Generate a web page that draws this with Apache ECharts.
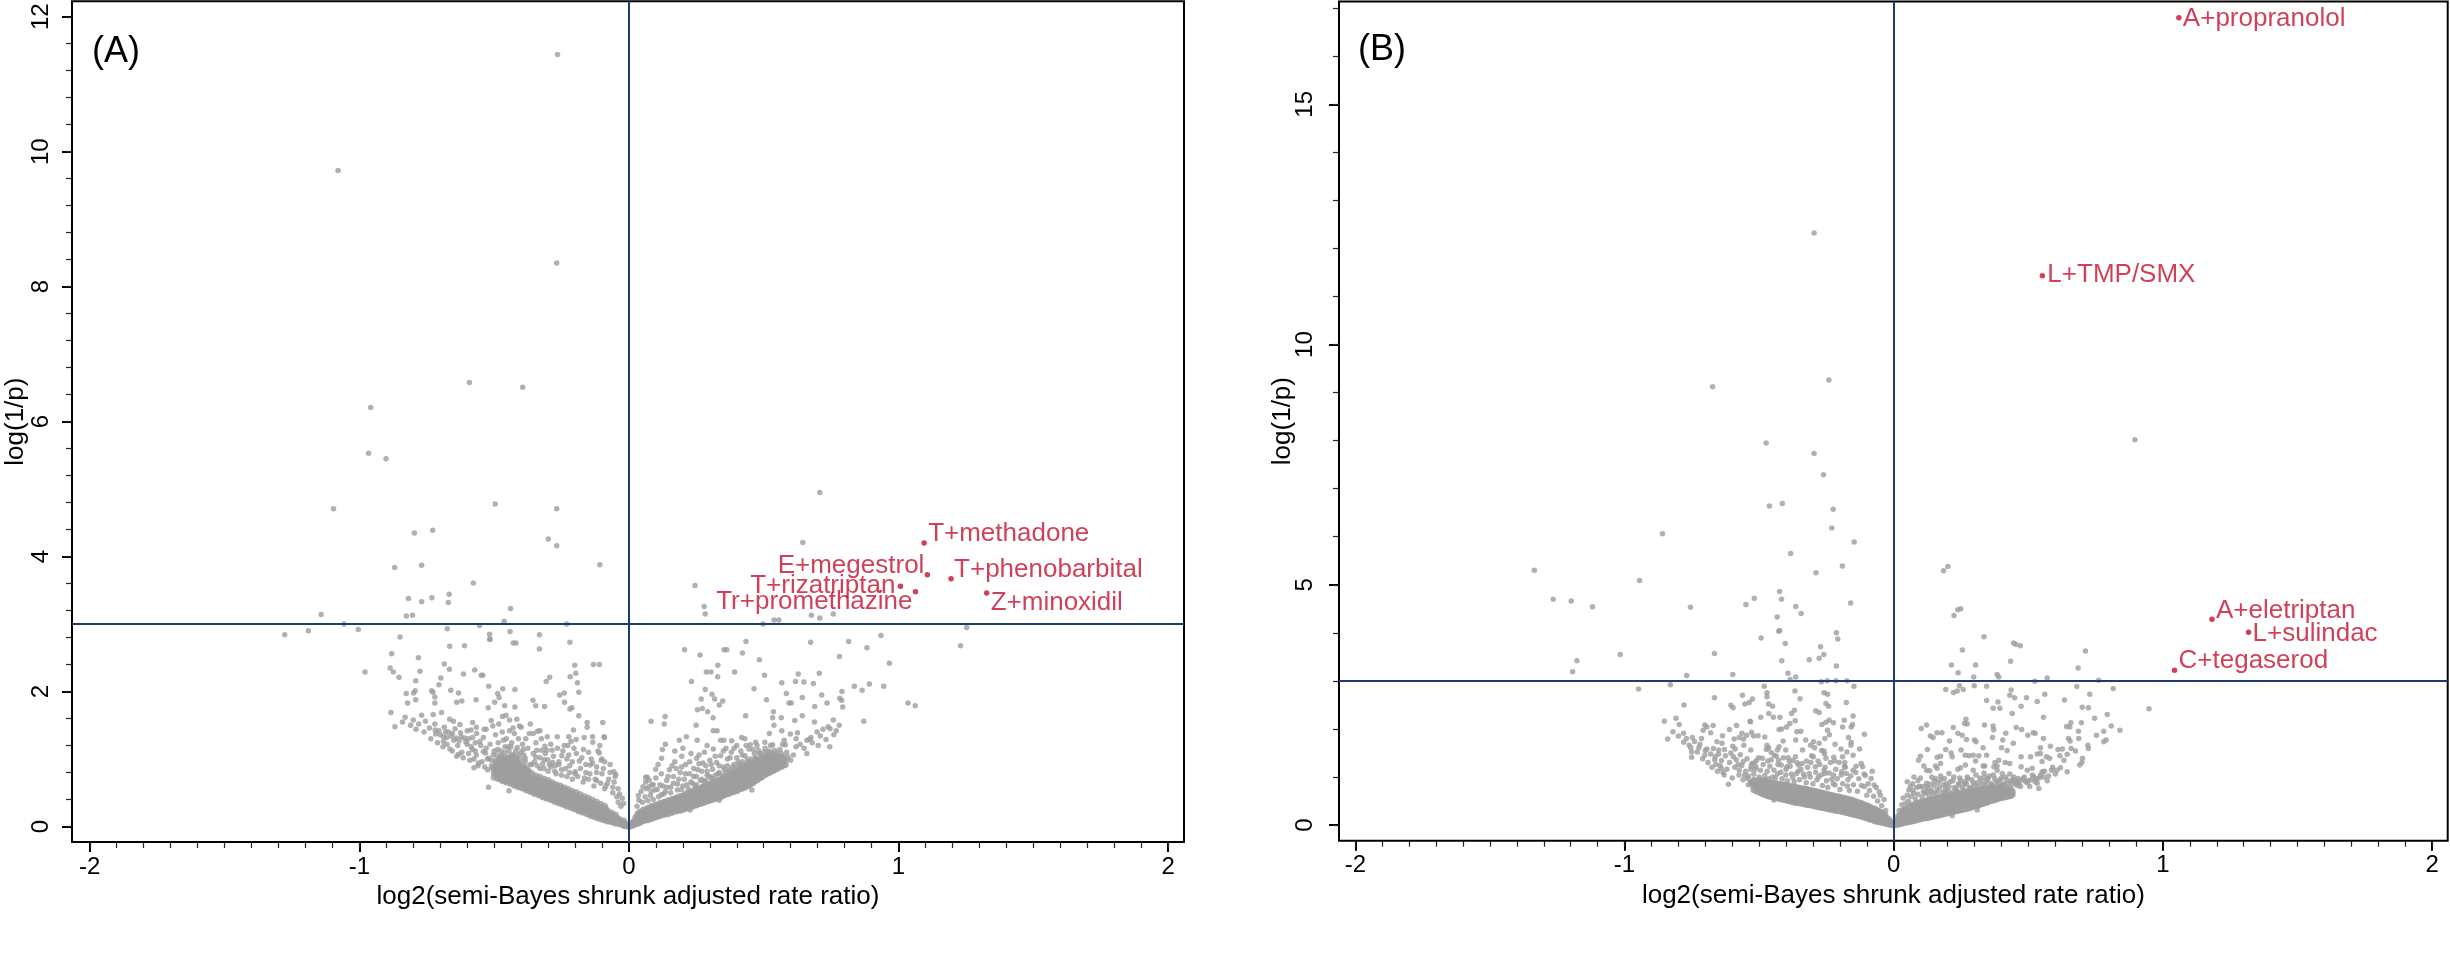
<!DOCTYPE html>
<html><head><meta charset="utf-8">
<script src="https://cdn.jsdelivr.net/npm/echarts@6/dist/echarts.min.js"></script>
<style>html,body{margin:0;padding:0;background:#fff}#c{width:2450px;height:958px}</style>
</head><body><div id="c"></div>
<script>
// ---------- tick labels ----------
const xTickLabels = [-2, -1, 0, 1, 2];
const xMinorTicks = [-2,-1.9,-1.8,-1.7,-1.6,-1.5,-1.4,-1.3,-1.2,-1.1,-1,-0.9,-0.8,-0.7,-0.6,-0.5,-0.4,-0.3,-0.2,-0.1,0,0.1,0.2,0.3,0.4,0.5,0.6,0.7,0.8,0.9,1,1.1,1.2,1.3,1.4,1.5,1.6,1.7,1.8,1.9,2];
const yTickLabelsA = [0, 2, 4, 6, 8, 10, 12];
const yMinorTicksA = [0,0.4,0.8,1.2,1.6,2,2.4,2.8,3.2,3.6,4,4.4,4.8,5.2,5.6,6,6.4,6.8,7.2,7.6,8,8.4,8.8,9.2,9.6,10,10.4,10.8,11.2,11.6,12];
const yTickLabelsB = [0, 5, 10, 15];
const yMinorTicksB = [0,1,2,3,4,5,6,7,8,9,10,11,12,13,14,15,16,17];
const xTitle = 'log2(semi-Bayes shrunk adjusted rate ratio)';
const yTitle = 'log(1/p)';

// ---------- panel A : highlighted pairs ----------
const redNamesA = ['T+methadone','E+megestrol','T+phenobarbital','T+rizatriptan','Tr+promethazine','Z+minoxidil'];
const redXA = [1.095, 1.107, 1.195, 1.007, 1.063, 1.327];
const redYA = [4.20, 3.73, 3.67, 3.56, 3.48, 3.46];

// ---------- panel A : other pairs ----------
const grayA_upper = [[-0.265,11.44],[-1.079,9.72],[-0.268,8.35],[-0.592,6.58],[-0.394,6.51],[-0.958,6.21],[-0.966,5.53],[-0.901,5.45],
[-1.096,4.71],[-0.496,4.78],[-0.268,4.71],[-0.796,4.35],[-0.728,4.39],[-0.299,4.26],[-0.268,4.16],[-0.869,3.84],[-0.769,3.87],[-0.108,3.88],[-0.577,3.61],[-0.818,3.38],[-0.769,3.33],[-0.731,3.39],[-0.667,3.44],[-0.670,3.32],[-0.439,3.23],[-1.142,3.14],[-0.826,3.12],[-0.803,3.13],[-1.057,3.00],[-0.554,2.98],[-0.463,3.04],[-0.231,3.00],[-1.277,2.84],[-1.189,2.90],[-1.004,2.92],[-0.849,2.81],[-0.674,2.93],[-0.517,2.85],[-0.516,2.78],[-0.441,2.89],[-0.332,2.84],[-0.979,2.29],
[0.708,4.95],[0.645,4.21],[0.245,3.57],[0.279,3.26],[0.283,3.15],[0.497,3.00],[0.538,3.06],[0.556,3.06],[0.677,3.13],[0.708,3.09],[0.758,3.15],[1.253,2.95],[0.935,2.83],[1.230,2.68],[0.966,2.42],[1.035,1.83],[1.062,1.79]];

const grayA_left = [[-0.880,2.56],[-0.781,2.50],[-0.665,2.67],[-0.610,2.68],[-0.516,2.77],[-0.429,2.72],[-0.419,2.72],[-0.332,2.63],[-0.219,2.73],
[-0.886,2.35],[-0.874,2.29],[-0.853,2.21],[-0.775,2.30],[-0.791,2.16],[-0.685,2.41],[-0.666,2.33],[-0.698,2.20],[-0.614,2.26],[-0.572,2.32],[-0.548,2.24],[-0.542,2.24],[-0.705,2.10],[-0.732,2.01],[-0.727,1.99],[-0.793,2.01],[-0.799,1.98],[-0.826,1.97],[-0.821,1.83],[-0.791,1.88],[-0.720,1.92],[-0.720,1.83],[-0.661,2.02],[-0.632,1.98],[-0.639,1.84],[-0.620,1.86],[-0.567,1.88],[-0.520,2.08],[-0.487,1.97],[-0.482,1.91],[-0.498,1.84],[-0.468,2.04],[-0.423,2.03],[-0.522,1.76],[-0.461,1.79],[-0.423,1.77],[-0.356,1.87],[-0.346,1.79],[-0.313,1.78],[-0.307,2.15],[-0.294,2.21],[-0.257,1.95],[-0.240,1.98],[-0.239,1.84],[-0.219,1.74],[-0.212,1.76],[-0.218,2.22],[-0.197,2.27],[-0.201,2.39],[-0.191,2.13],[-0.186,1.99],[-0.132,2.40],[-0.110,2.40],[-0.186,1.64],
[-0.883,1.69],[-0.868,1.48],[-0.769,1.65],[-0.726,1.66],[-0.695,1.69],[-0.665,1.59],[-0.651,1.56],[-0.627,1.51],[-0.719,1.43],[-0.717,1.37],[-0.688,1.33],[-0.688,1.26],[-0.676,1.32],[-0.660,1.34],[-0.641,1.31],[-0.622,1.33],[-0.610,1.31],[-0.595,1.30],
[-0.70,1.36],[-0.68,1.40],[-0.655,1.38],[-0.63,1.27],[-0.60,1.22],[-0.585,1.18],[-0.57,1.24],
[-0.580,1.54],[-0.566,1.47],[-0.586,1.43],[-0.537,1.44],[-0.530,1.44],[-0.505,1.49],[-0.483,1.52],[-0.511,1.57],[-0.469,1.63],[-0.456,1.65],[-0.443,1.58],[-0.416,1.59],[-0.406,1.49],[-0.400,1.47],[-0.443,1.42],[-0.425,1.38],[-0.383,1.30],[-0.366,1.52],[-0.355,1.38],[-0.339,1.41],[-0.330,1.42],[-0.303,1.33],[-0.266,1.33],[-0.223,1.33],[-0.206,1.43],[-0.196,1.29],[-0.166,1.32],[-0.155,1.54],[-0.155,1.47],[-0.135,1.33],[-0.097,1.54],[-0.091,1.32],[-0.092,1.33],[-0.10,1.0],[-0.056,0.81],[-0.049,0.77],
[-0.664,1.15],[-0.639,1.04],[-0.632,1.07],[-0.581,1.14],[-0.553,1.26],[-0.566,1.06],[-0.558,0.94],[-0.575,0.87],[-0.540,1.11],[-0.532,1.09],[-0.520,1.01],[-0.510,0.98],[-0.503,1.06],[-0.487,1.14],[-0.466,1.28],[-0.460,1.18],[-0.448,1.18],[-0.438,1.18],[-0.414,1.17],[-0.392,1.14],[-0.472,1.06],[-0.466,1.01],[-0.429,1.06],[-0.410,1.06],[-0.390,1.06],[-0.385,1.01],[-0.342,1.13],[-0.324,1.13],[-0.305,1.13],[-0.285,1.13],[-0.312,1.19],[-0.346,1.03],[-0.314,0.99],[-0.301,0.99],[-0.283,0.95],[-0.274,0.90],[-0.249,1.05],[-0.240,1.20],[-0.227,1.20],[-0.223,1.06],[-0.204,1.16],[-0.184,0.97],[-0.199,0.81],[-0.169,1.14],[-0.134,1.25],[-0.108,1.20],[-0.110,1.09],[-0.144,0.91],[-0.135,0.94],[-0.103,0.98],[-0.095,0.86],[-0.070,0.80],[-0.051,0.74],[-0.035,0.48],[-0.020,0.34],
[-0.524,0.84],[-0.505,0.86],[-0.485,0.83],[-0.477,0.77],[-0.456,0.86],[-0.448,0.75],[-0.432,0.81],[-0.521,0.58],[-0.445,0.53],
[-0.36,0.92],[-0.33,0.86],[-0.30,0.82],[-0.27,0.78],[-0.25,0.84],[-0.23,0.74],[-0.21,0.70],[-0.19,0.74],[-0.17,0.66],[-0.15,0.70],[-0.13,0.60],[-0.12,0.68],[-0.09,0.56],[-0.08,0.64],[-0.06,0.50],[-0.04,0.36],[-0.35,0.96],[-0.32,0.93],[-0.29,0.88],[-0.26,0.92],[-0.22,0.90],[-0.16,0.80],[-0.12,0.80],
[-0.84,1.55],[-0.83,1.62],[-0.81,1.50],[-0.80,1.58],[-0.79,1.44],[-0.78,1.52],[-0.76,1.40],[-0.755,1.56],[-0.74,1.46],[-0.735,1.30],[-0.72,1.52],[-0.71,1.24],[-0.705,1.42],[-0.69,1.18],[-0.685,1.47],[-0.675,1.22],[-0.67,1.40],[-0.655,1.12],[-0.65,1.28],[-0.645,1.45],[-0.635,1.20],[-0.625,1.39],[-0.62,1.10],[-0.615,1.02],[-0.605,1.26],[-0.60,1.42],[-0.595,1.08],[-0.59,0.98],[-0.58,1.32],[-0.575,1.00],[-0.57,1.12],[-0.565,1.38],[-0.56,0.90],[-0.55,1.20],[-0.545,0.96],[-0.54,1.32],[-0.535,0.88],[-0.53,1.16],[-0.525,1.00],[-0.515,1.22],[-0.51,0.90],[-0.50,1.12],[-0.495,1.36],[-0.49,1.06],[-0.485,1.24],[-0.475,1.12],[-0.47,1.40],[-0.46,1.10],[-0.455,1.30],[-0.445,1.12],[-0.435,1.24],[-0.43,1.46],[-0.42,1.12],[-0.41,1.30],[-0.40,1.10],[-0.395,1.22],[-0.385,0.96],[-0.375,1.16],[-0.37,1.38],[-0.365,0.92],[-0.355,1.08],[-0.345,1.24],[-0.34,0.90],[-0.33,1.02],[-0.325,1.30],[-0.315,0.86],[-0.31,1.08],[-0.295,0.92],[-0.29,1.22],[-0.28,1.04],[-0.275,0.82],[-0.265,1.16],[-0.26,0.96],[-0.25,0.76],[-0.245,1.12],[-0.235,0.86],[-0.23,1.00],[-0.22,0.80],[-0.215,1.26],[-0.21,0.96],[-0.20,0.78],[-0.195,1.08],[-0.18,0.86],[-0.175,1.02],[-0.165,0.72],[-0.16,0.92],[-0.15,1.10],[-0.145,0.78],[-0.14,1.00],[-0.125,0.70],[-0.12,0.88],[-0.115,1.12],[-0.105,0.64],[-0.10,0.78],[-0.09,0.96],[-0.085,0.60],[-0.075,0.70],[-0.07,0.92],[-0.06,0.58],[-0.055,0.66],[-0.045,0.44],[-0.04,0.56],[-0.03,0.30],[-0.025,0.42]];

const grayA_leftBand = [[-0.50,0.73],[-0.50,0.80],[-0.50,0.87],[-0.49,0.95],
[-0.485,0.71],[-0.485,0.78],[-0.485,0.85],[-0.48,0.92],[-0.48,1.00],
[-0.47,0.68],[-0.47,0.75],[-0.47,0.82],[-0.465,0.89],[-0.47,0.96],[-0.465,1.03],
[-0.455,0.66],[-0.455,0.72],[-0.455,0.79],[-0.45,0.86],[-0.455,0.93],[-0.45,1.00],
[-0.44,0.64],[-0.44,0.70],[-0.44,0.77],[-0.44,0.84],[-0.435,0.91],[-0.44,0.97],[-0.435,1.05],
[-0.425,0.61],[-0.425,0.68],[-0.425,0.74],[-0.425,0.81],[-0.42,0.88],[-0.425,0.94],[-0.42,1.01],
[-0.41,0.59],[-0.41,0.65],[-0.41,0.72],[-0.41,0.78],[-0.405,0.85],[-0.41,0.92],[-0.405,0.99],
[-0.395,0.57],[-0.395,0.63],[-0.395,0.69],[-0.395,0.76],[-0.39,0.83],[-0.395,0.90],
[-0.38,0.54],[-0.38,0.60],[-0.38,0.67],[-0.38,0.73],[-0.375,0.80],[-0.38,0.87],
[-0.365,0.52],[-0.365,0.58],[-0.365,0.64],[-0.365,0.71],[-0.36,0.78],
[-0.35,0.49],[-0.35,0.55],[-0.35,0.62],[-0.35,0.68],[-0.345,0.75],
[-0.335,0.47],[-0.335,0.53],[-0.335,0.59],[-0.335,0.66],[-0.33,0.73],
[-0.32,0.44],[-0.32,0.50],[-0.32,0.57],[-0.32,0.63],[-0.315,0.70],
[-0.305,0.42],[-0.305,0.48],[-0.305,0.54],[-0.305,0.61],[-0.30,0.68],
[-0.29,0.40],[-0.29,0.46],[-0.29,0.52],[-0.29,0.58],[-0.285,0.65],
[-0.275,0.37],[-0.275,0.43],[-0.275,0.50],[-0.275,0.56],[-0.27,0.62],
[-0.26,0.35],[-0.26,0.41],[-0.26,0.47],[-0.26,0.53],[-0.255,0.60],
[-0.245,0.33],[-0.245,0.39],[-0.245,0.45],[-0.245,0.51],[-0.24,0.57],
[-0.23,0.30],[-0.23,0.36],[-0.23,0.42],[-0.23,0.48],[-0.225,0.55],
[-0.215,0.28],[-0.215,0.34],[-0.215,0.40],[-0.215,0.46],[-0.21,0.52],
[-0.20,0.26],[-0.20,0.31],[-0.20,0.37],[-0.20,0.43],[-0.195,0.50],
[-0.185,0.23],[-0.185,0.29],[-0.185,0.35],[-0.185,0.41],[-0.18,0.47],
[-0.17,0.21],[-0.17,0.27],[-0.17,0.32],[-0.17,0.38],[-0.165,0.44],
[-0.155,0.19],[-0.155,0.24],[-0.155,0.30],[-0.155,0.36],[-0.15,0.42],
[-0.14,0.16],[-0.14,0.22],[-0.14,0.27],[-0.14,0.33],[-0.135,0.39],
[-0.125,0.14],[-0.125,0.19],[-0.125,0.25],[-0.125,0.31],[-0.12,0.36],
[-0.11,0.12],[-0.11,0.17],[-0.11,0.22],[-0.11,0.28],[-0.105,0.33],
[-0.095,0.10],[-0.095,0.15],[-0.095,0.20],[-0.095,0.25],[-0.09,0.30],
[-0.08,0.08],[-0.08,0.13],[-0.08,0.18],[-0.08,0.23],
[-0.065,0.07],[-0.065,0.11],[-0.065,0.15],[-0.065,0.20],
[-0.05,0.05],[-0.05,0.09],[-0.05,0.13],[-0.05,0.17],
[-0.035,0.04],[-0.035,0.07],[-0.035,0.10],
[-0.02,0.02],[-0.02,0.05],[-0.02,0.08],[-0.01,0.01],[-0.01,0.03],[0,0],
[-0.4925,0.76],[-0.4925,0.83],[-0.4925,0.90],[-0.4925,0.97],
[-0.4775,0.72],[-0.4775,0.79],[-0.4775,0.86],[-0.4775,0.94],[-0.4775,1.01],
[-0.4625,0.69],[-0.4625,0.76],[-0.4625,0.83],[-0.4625,0.91],[-0.4625,0.98],
[-0.4475,0.67],[-0.4475,0.74],[-0.4475,0.81],[-0.4475,0.88],[-0.4475,0.95],[-0.4475,1.02],
[-0.4325,0.65],[-0.4325,0.72],[-0.4325,0.79],[-0.4325,0.86],[-0.4325,0.93],[-0.4325,1.00],
[-0.4175,0.62],[-0.4175,0.69],[-0.4175,0.76],[-0.4175,0.83],[-0.4175,0.90],[-0.4175,0.97],
[-0.4025,0.60],[-0.4025,0.67],[-0.4025,0.74],[-0.4025,0.81],[-0.4025,0.88],
[-0.3875,0.57],[-0.3875,0.64],[-0.3875,0.71],[-0.3875,0.78],[-0.3875,0.85],
[-0.3725,0.55],[-0.3725,0.62],[-0.3725,0.68],[-0.3725,0.75],[-0.3725,0.82],
[-0.3575,0.52],[-0.3575,0.59],[-0.3575,0.66],[-0.3575,0.72],
[-0.3425,0.50],[-0.3425,0.57],[-0.3425,0.64],[-0.3425,0.70],
[-0.3275,0.47],[-0.3275,0.54],[-0.3275,0.61],[-0.3275,0.68],
[-0.3125,0.45],[-0.3125,0.52],[-0.3125,0.59],[-0.3125,0.66],
[-0.2975,0.43],[-0.2975,0.50],[-0.2975,0.57],[-0.2975,0.64],
[-0.2825,0.40],[-0.2825,0.47],[-0.2825,0.54],[-0.2825,0.61],
[-0.2675,0.38],[-0.2675,0.45],[-0.2675,0.52],[-0.2675,0.59],
[-0.2525,0.36],[-0.2525,0.43],[-0.2525,0.50],[-0.2525,0.57],
[-0.2375,0.33],[-0.2375,0.40],[-0.2375,0.47],[-0.2375,0.54],
[-0.2225,0.31],[-0.2225,0.38],[-0.2225,0.44],[-0.2225,0.51],
[-0.2075,0.29],[-0.2075,0.35],[-0.2075,0.42],[-0.2075,0.48],
[-0.1925,0.26],[-0.1925,0.32],[-0.1925,0.39],[-0.1925,0.45],
[-0.1775,0.24],[-0.1775,0.30],[-0.1775,0.36],[-0.1775,0.42],
[-0.1625,0.22],[-0.1625,0.28],[-0.1625,0.34],[-0.1625,0.40],
[-0.1475,0.19],[-0.1475,0.25],[-0.1475,0.31],[-0.1475,0.37],
[-0.1325,0.17],[-0.1325,0.23],[-0.1325,0.29],[-0.1325,0.35],
[-0.1175,0.15],[-0.1175,0.20],[-0.1175,0.26],[-0.1175,0.32],
[-0.1025,0.13],[-0.1025,0.18],[-0.1025,0.23],[-0.1025,0.28],
[-0.0875,0.11],[-0.0875,0.16],[-0.0875,0.21],[-0.0875,0.26],
[-0.0725,0.09],[-0.0725,0.14],[-0.0725,0.18],
[-0.0575,0.07],[-0.0575,0.11],[-0.0575,0.16],
[-0.0425,0.06],[-0.0425,0.09],[-0.0425,0.12],
[-0.0275,0.04],[-0.0275,0.07],[-0.015,0.02],[-0.015,0.04]];

const grayA_right = [[0.206,2.62],[0.264,2.54],[0.353,2.62],[0.363,2.62],[0.421,2.57],[0.434,2.74],[0.484,2.47],[0.674,2.73],[0.815,2.74],[0.883,2.65],[0.781,2.52],[0.330,2.39],[0.287,2.29],[0.304,2.29],[0.329,2.22],[0.392,2.29],[0.503,2.24],[0.232,2.15],[0.567,2.13],[0.618,2.15],[0.628,2.26],[0.649,2.14],[0.684,2.12],[0.706,2.27],[0.836,2.08],[0.865,2.02],[0.892,2.11],[0.945,2.08],[0.283,2.03],[0.308,1.96],[0.318,1.89],[0.335,1.80],[0.348,1.86],[0.268,1.89],[0.464,2.04],[0.510,1.88],[0.584,1.97],[0.594,1.83],[0.602,1.83],[0.643,1.91],[0.689,1.78],[0.715,1.95],[0.735,1.83],[0.782,1.90],[0.789,1.87],[0.790,2.00],[0.793,1.77],[0.254,1.73],[0.272,1.75],[0.292,1.70],[0.312,1.61],[0.249,1.50],[0.134,1.63],[0.131,1.52],[0.082,1.56],[0.433,1.64],[0.536,1.70],[0.533,1.61],[0.565,1.61],[0.615,1.57],[0.643,1.64],[0.688,1.55],[0.739,1.48],[0.746,1.45],[0.758,1.58],[0.769,1.42],[0.871,1.56],[0.538,1.50],[0.567,1.42],[0.599,1.37],[0.625,1.39],[0.660,1.28],[0.670,1.29],[0.698,1.40],[0.702,1.20],[0.731,1.29],[0.745,1.18],[0.660,1.08],[0.521,1.38],[0.504,1.25],[0.533,1.21],[0.576,1.28],[0.580,1.21],[0.620,1.18],[0.418,1.32],[0.450,1.21],[0.313,1.42],[0.327,1.42],[0.340,1.28],[0.352,1.28],[0.381,1.27],[0.313,1.15],[0.253,1.28],[0.213,1.33],[0.187,1.28],[0.135,1.22],[0.124,1.14],[0.121,1.01],[0.196,1.04],[0.251,1.01],[0.108,0.92],[0.099,0.85],[0.062,0.73],[0.068,0.73],[0.052,0.59],[0.037,0.39],[0.074,0.59],[0.082,0.52],[0.456,0.54],[0.335,0.39],[0.227,0.245],
[0.062,0.66],[0.075,0.69],[0.09,0.62],[0.10,0.72],[0.105,0.55],[0.12,0.47],[0.125,0.60],[0.135,0.52],[0.14,0.68],[0.15,0.84],[0.155,0.58],[0.16,0.90],[0.165,0.74],[0.175,0.86],[0.18,0.63],[0.19,0.80],[0.195,0.55],[0.205,0.70],[0.21,0.92],[0.215,0.62],[0.225,0.78],[0.23,0.66],[0.24,0.86],[0.245,0.60],[0.25,0.74],[0.26,0.93],[0.265,0.68],[0.27,0.82],[0.28,0.66],[0.285,0.90],[0.29,0.76],[0.30,0.98],[0.305,0.72],[0.31,0.85],[0.32,0.76],[0.325,0.95],[0.335,0.80],[0.34,1.05],[0.35,0.88],[0.36,0.80],[0.365,1.00],[0.375,0.84],[0.38,1.10],[0.39,0.92],[0.40,1.02],[0.405,0.88],[0.415,1.12],[0.42,0.96],[0.43,1.05],[0.44,0.96],[0.445,1.15],[0.455,1.00],[0.465,1.08],[0.47,1.02],[0.48,1.13],[0.49,1.06],[0.50,1.10],[0.51,1.06],[0.52,1.12],[0.53,1.08],[0.54,1.13],[0.55,1.09],[0.565,1.08],[0.575,1.04],[0.59,1.03],[0.60,0.98],
[0.17,1.12],[0.20,1.16],[0.23,1.08],[0.28,1.10],[0.29,1.20],[0.36,1.16],[0.40,1.20],[0.47,1.25],[0.43,1.30],
[0.03,0.30],[0.035,0.46],[0.045,0.52],[0.05,0.36],[0.06,0.44],[0.065,0.56],[0.07,0.38],[0.08,0.46],[0.085,0.62],[0.09,0.40],[0.095,0.54],[0.11,0.44],[0.115,0.62],[0.12,0.78],[0.13,0.48],[0.14,0.58],[0.145,0.74],[0.155,0.50],[0.165,0.64],[0.17,0.96],[0.18,0.54],[0.185,0.70],[0.195,0.88],[0.20,0.60],[0.21,0.78],[0.22,0.56],[0.225,0.96],[0.235,0.64],[0.24,0.74],[0.25,0.62],[0.255,0.84],[0.26,1.06],[0.27,0.70],[0.275,0.94],[0.285,0.68],[0.29,0.82],[0.30,0.74],[0.305,0.92],[0.315,0.70],[0.32,1.04],[0.33,0.78],[0.335,0.90],[0.345,0.76],[0.35,1.12],[0.355,0.84],[0.365,0.90],[0.37,0.82],[0.375,1.02],[0.385,0.88],[0.39,1.16],[0.395,0.84],[0.405,0.96],[0.41,0.92],[0.42,1.06],[0.425,0.92],[0.435,1.20],[0.44,1.00],[0.45,0.96],[0.46,1.14],[0.47,1.00],[0.475,1.20],[0.485,1.08],[0.495,1.02],[0.505,1.16],[0.515,1.10],[0.525,1.20],[0.545,1.06],[0.56,1.14],[0.57,1.22],[0.585,1.10],[0.61,1.06],[0.62,1.30],[0.635,1.22],[0.65,1.16],[0.675,1.32],[0.68,1.24],[0.71,1.34],[0.72,1.44],[0.76,1.36],[0.78,1.50]];

const grayA_rightBand = [[0.01,0.01],[0.012,0.04],
[0.025,0.04],[0.025,0.09],[0.025,0.13],
[0.04,0.06],[0.04,0.11],[0.04,0.16],[0.04,0.21],
[0.055,0.09],[0.055,0.14],[0.055,0.19],[0.055,0.25],
[0.07,0.10],[0.07,0.16],[0.07,0.22],[0.07,0.27],
[0.085,0.12],[0.085,0.18],[0.085,0.24],[0.085,0.30],
[0.10,0.14],[0.10,0.20],[0.10,0.26],[0.10,0.32],
[0.115,0.16],[0.115,0.22],[0.115,0.28],[0.115,0.34],
[0.13,0.18],[0.13,0.24],[0.13,0.30],[0.13,0.36],
[0.145,0.19],[0.145,0.25],[0.145,0.32],[0.145,0.38],
[0.16,0.21],[0.16,0.27],[0.16,0.34],[0.16,0.40],
[0.175,0.23],[0.175,0.29],[0.175,0.36],[0.175,0.42],
[0.19,0.24],[0.19,0.31],[0.19,0.38],[0.19,0.44],
[0.205,0.26],[0.205,0.33],[0.205,0.40],[0.205,0.46],
[0.22,0.28],[0.22,0.35],[0.22,0.42],[0.22,0.49],
[0.235,0.30],[0.235,0.37],[0.235,0.44],[0.235,0.51],
[0.25,0.32],[0.25,0.39],[0.25,0.46],[0.25,0.54],
[0.265,0.34],[0.265,0.41],[0.265,0.49],[0.265,0.56],
[0.28,0.36],[0.28,0.43],[0.28,0.51],[0.28,0.59],
[0.295,0.38],[0.295,0.46],[0.295,0.54],[0.295,0.61],
[0.31,0.40],[0.31,0.48],[0.31,0.56],[0.31,0.64],
[0.325,0.42],[0.325,0.50],[0.325,0.58],[0.325,0.66],
[0.34,0.44],[0.34,0.52],[0.34,0.61],[0.34,0.69],
[0.355,0.47],[0.355,0.55],[0.355,0.64],[0.355,0.72],
[0.37,0.49],[0.37,0.57],[0.37,0.66],[0.37,0.74],
[0.385,0.51],[0.385,0.60],[0.385,0.69],[0.385,0.77],
[0.40,0.53],[0.40,0.62],[0.40,0.72],[0.40,0.81],
[0.415,0.56],[0.415,0.65],[0.415,0.75],[0.415,0.84],
[0.43,0.58],[0.43,0.68],[0.43,0.78],[0.43,0.87],
[0.445,0.61],[0.445,0.71],[0.445,0.81],[0.445,0.90],
[0.46,0.65],[0.46,0.75],[0.46,0.84],[0.46,0.93],
[0.475,0.69],[0.475,0.78],[0.475,0.87],[0.475,0.96],
[0.49,0.73],[0.49,0.82],[0.49,0.91],[0.49,0.99],
[0.505,0.77],[0.505,0.86],[0.505,0.94],[0.505,1.01],
[0.52,0.80],[0.52,0.89],[0.52,0.97],[0.52,1.03],
[0.535,0.83],[0.535,0.91],[0.535,0.99],[0.535,1.05],
[0.55,0.86],[0.55,0.94],[0.55,1.02],
[0.565,0.89],[0.565,0.96],[0.565,1.02],
[0.58,0.92],[0.58,0.98],
[0.0175,0.03],[0.0175,0.07],
[0.0325,0.05],[0.0325,0.09],[0.0325,0.14],[0.0325,0.18],
[0.0475,0.08],[0.0475,0.12],[0.0475,0.17],[0.0475,0.22],
[0.0625,0.10],[0.0625,0.14],[0.0625,0.19],[0.0625,0.24],
[0.0775,0.12],[0.0775,0.17],[0.0775,0.22],[0.0775,0.27],
[0.0925,0.14],[0.0925,0.19],[0.0925,0.24],[0.0925,0.29],
[0.1075,0.16],[0.1075,0.21],[0.1075,0.26],[0.1075,0.31],
[0.1225,0.18],[0.1225,0.23],[0.1225,0.29],[0.1225,0.34],
[0.1375,0.19],[0.1375,0.25],[0.1375,0.31],[0.1375,0.36],
[0.1525,0.21],[0.1525,0.27],[0.1525,0.33],[0.1525,0.38],
[0.1675,0.23],[0.1675,0.29],[0.1675,0.35],[0.1675,0.40],
[0.1825,0.25],[0.1825,0.31],[0.1825,0.37],[0.1825,0.43],
[0.1975,0.26],[0.1975,0.33],[0.1975,0.39],[0.1975,0.45],
[0.2125,0.28],[0.2125,0.35],[0.2125,0.41],[0.2125,0.48],
[0.2275,0.30],[0.2275,0.37],[0.2275,0.44],[0.2275,0.50],
[0.2425,0.32],[0.2425,0.39],[0.2425,0.46],[0.2425,0.53],
[0.2575,0.34],[0.2575,0.41],[0.2575,0.48],[0.2575,0.55],
[0.2725,0.36],[0.2725,0.43],[0.2725,0.51],[0.2725,0.58],
[0.2875,0.38],[0.2875,0.46],[0.2875,0.53],[0.2875,0.60],
[0.3025,0.40],[0.3025,0.48],[0.3025,0.56],[0.3025,0.63],
[0.3175,0.42],[0.3175,0.50],[0.3175,0.58],[0.3175,0.65],
[0.3325,0.44],[0.3325,0.52],[0.3325,0.60],[0.3325,0.68],
[0.3475,0.46],[0.3475,0.55],[0.3475,0.63],[0.3475,0.71],
[0.3625,0.49],[0.3625,0.57],[0.3625,0.66],[0.3625,0.74],
[0.3775,0.51],[0.3775,0.60],[0.3775,0.68],[0.3775,0.77],
[0.3925,0.53],[0.3925,0.62],[0.3925,0.71],[0.3925,0.80],
[0.4075,0.56],[0.4075,0.65],[0.4075,0.74],[0.4075,0.83],
[0.4225,0.58],[0.4225,0.68],[0.4225,0.77],[0.4225,0.86],
[0.4375,0.61],[0.4375,0.71],[0.4375,0.80],[0.4375,0.89],
[0.4525,0.64],[0.4525,0.74],[0.4525,0.83],[0.4525,0.92],
[0.4675,0.68],[0.4675,0.77],[0.4675,0.86],[0.4675,0.95],
[0.4825,0.72],[0.4825,0.81],[0.4825,0.90],[0.4825,0.98],
[0.4975,0.76],[0.4975,0.85],[0.4975,0.93],[0.4975,1.00],
[0.5125,0.79],[0.5125,0.88],[0.5125,0.96],[0.5125,1.03],
[0.5275,0.82],[0.5275,0.91],[0.5275,0.99],[0.5275,1.05],
[0.5425,0.85],[0.5425,0.93],[0.5425,1.01],
[0.5575,0.88],[0.5575,0.96],[0.5575,1.03],
[0.5725,0.91],[0.5725,0.98]];

// ---------- panel B : highlighted pairs ----------
const redNamesB = ['A+propranolol','L+TMP/SMX','A+eletriptan','L+sulindac','C+tegaserod'];
const redXB = [1.059, 0.552, 1.182, 1.318, 1.043];
const redYB = [16.80, 11.43, 4.28, 4.01, 3.22];

// ---------- panel B : other pairs ----------
const grayB_upper = [[-0.296,12.32],[-0.673,9.12],[-0.241,9.26],[-0.474,7.95],[-0.296,7.73],[0.896,8.02],
[-0.261,7.29],[-0.462,6.64],[-0.414,6.69],[-0.225,6.57],[-0.230,6.18],[-0.859,6.06],[-0.147,5.89],[-0.383,5.65],[-0.191,5.39],[-1.335,5.30],[-0.289,5.25],[-0.944,5.09],[-0.424,4.86],[-0.417,4.70],[-1.265,4.70],[-1.198,4.66],[-1.119,4.54],[-0.755,4.53],[-0.518,4.72],[-0.549,4.59],[-0.364,4.55],[-0.344,4.40],[-0.160,4.62],[-0.433,4.33],[-0.424,4.05],
[0.185,5.29],[0.201,5.38],[0.224,4.36],[0.238,4.48],[0.249,4.50],[0.948,2.42]];

const grayB_left = [[-1.177,3.42],[-1.193,3.19],[-1.016,3.55],[-0.666,3.57],[-0.769,3.11],[-0.598,3.13],[-0.948,2.83],[-0.830,2.92],[-0.493,3.89],[-0.427,4.03],[-0.403,3.78],[-0.416,3.42],[-0.393,3.16],[-0.385,3.03],[-0.364,3.08],[-0.314,3.44],[-0.277,3.47],[-0.260,3.55],[-0.272,3.71],[-0.213,4.00],[-0.208,3.87],[-0.213,3.31],[-0.269,2.98],[-0.247,3.0],[-0.215,3.0],[-0.174,3.0],[-0.148,2.89],[-0.481,2.89],[-0.471,2.75],[-0.471,2.67],[-0.367,2.79],[-0.348,2.63],[-0.259,2.75],[-0.246,2.72],[-0.176,2.55],[-0.252,2.53],[-0.242,2.47],[-0.290,2.38],[-0.277,2.34],[-0.380,2.32],[-0.369,2.39],[-0.465,2.52],[-0.450,2.47],[-0.464,2.32],[-0.447,2.24],[-0.423,2.24],[-0.494,2.24],[-0.534,2.16],[-0.562,2.70],[-0.553,2.52],[-0.537,2.55],[-0.525,2.62],[-0.605,2.49],[-0.597,2.44],[-0.666,2.65],[-0.779,2.50],[-0.852,2.16],[-0.809,2.22],[-0.797,2.09],[-0.840,1.79],[-0.781,1.91],[-0.748,1.82],[-0.714,1.80],[-0.708,1.97],[-0.702,2.08],[-0.694,2.04],[-0.671,2.07],[-0.680,1.92],[-0.636,1.86],[-0.610,1.99],[-0.584,2.07],[-0.593,1.79],[-0.574,1.82],[-0.564,1.91],[-0.546,1.87],[-0.528,1.93],[-0.521,1.85],[-0.504,1.86],[-0.479,1.83],[-0.532,2.15],[-0.426,1.99],[-0.416,2.0],[-0.398,2.04],[-0.386,2.11],[-0.366,2.17],[-0.360,1.94],[-0.345,1.95],[-0.327,1.77],[-0.364,1.77],[-0.411,1.75],[-0.426,1.63],[-0.471,1.66],[-0.465,1.61],[-0.432,1.56],[-0.401,1.56],[-0.298,1.73],[-0.309,1.66],[-0.294,1.61],[-0.252,2.14],[-0.240,2.18],[-0.267,2.09],[-0.224,2.13],[-0.246,1.97],[-0.239,1.88],[-0.256,1.80],[-0.277,1.70],[-0.268,1.55],[-0.259,1.54],[-0.218,1.68],[-0.196,1.58],[-0.184,2.18],[-0.190,2.04],[-0.158,2.04],[-0.153,2.09],[-0.151,2.27],[-0.168,1.82],[-0.158,1.72],[-0.159,1.66],[-0.127,1.58],[-0.109,1.89],[-0.174,1.52],[-0.151,1.45],[-0.190,1.42],[-0.223,1.41],[-0.257,1.48],[-0.252,1.39],[-0.299,1.42],[-0.281,1.33],[-0.308,1.30],[-0.376,1.34],[-0.359,1.30],[-0.392,1.40],[-0.354,1.25],[-0.345,1.16],[-0.324,1.33],[-0.418,1.25],[-0.397,1.21],[-0.388,1.32],[-0.436,1.43],[-0.428,1.35],[-0.455,1.51],[-0.444,1.45],[-0.488,1.39],[-0.468,1.33],[-0.512,1.21],[-0.527,1.28],[-0.518,1.29],[-0.531,1.16],[-0.515,1.16],[-0.502,1.40],[-0.559,1.32],[-0.596,1.42],[-0.578,1.26],[-0.574,1.14],[-0.554,1.04],[-0.543,0.97],[-0.531,0.90],[-0.614,0.85],[-0.641,1.18],[-0.634,1.09],[-0.661,1.26],[-0.640,1.34],[-0.629,1.57],[-0.638,1.70],[-0.657,1.73],[-0.670,1.59],[-0.694,1.58],[-0.702,1.45],[-0.724,1.61],[-0.754,1.61],[-0.751,1.52],[-0.751,1.41],[-0.663,1.42],[-0.651,1.48],[-0.598,1.64],[-0.589,1.58],[-0.557,1.66],[-0.558,1.79],[-0.531,1.56],[-0.473,1.57],[-0.339,1.56],[-0.219,1.33],[-0.203,1.30],[-0.182,1.30],[-0.183,1.21],[-0.193,1.11],[-0.176,1.07],[-0.224,1.04],[-0.259,1.14],[-0.256,1.07],[-0.280,1.00],[-0.151,1.14],[-0.141,1.09],[-0.121,1.28],[-0.116,1.21],[-0.106,1.03],[-0.084,0.97],[-0.073,0.83],[-0.109,0.80],[-0.054,0.69],[-0.036,0.53],[-0.172,0.81],[-0.218,0.83],[-0.230,0.95],[-0.291,1.21],[-0.314,1.07],[-0.332,1.00],[-0.361,1.07],[-0.375,0.99],[-0.401,1.04],[-0.432,1.06],[-0.450,1.00],[-0.445,0.52],[-0.479,1.03],[-0.488,0.90],
[-0.54,0.84],[-0.53,0.88],[-0.525,0.82],[-0.515,0.86],[-0.51,0.92],[-0.50,0.84],[-0.495,0.89],[-0.485,0.82],[-0.48,0.94],[-0.475,0.86],[-0.52,0.95],[-0.505,0.78],
[-0.82,1.94],[-0.80,1.85],[-0.78,1.72],[-0.77,1.80],[-0.76,1.66],[-0.74,1.74],[-0.73,1.52],[-0.72,1.68],[-0.71,1.38],[-0.70,1.55],[-0.69,1.30],[-0.68,1.48],[-0.675,1.20],[-0.665,1.36],[-0.655,1.12],[-0.65,1.56],[-0.645,1.24],[-0.63,1.04],[-0.625,1.44],[-0.62,1.16],[-0.61,1.30],[-0.605,1.50],[-0.60,0.98],[-0.59,1.20],[-0.585,1.36],[-0.575,1.04],[-0.57,1.46],[-0.565,1.24],[-0.56,0.94],[-0.55,1.12],[-0.545,1.38],[-0.54,1.02],[-0.53,1.22],[-0.52,1.06],[-0.51,1.34],[-0.50,1.00],[-0.495,1.14],[-0.485,1.26],[-0.47,1.12],[-0.465,0.96],[-0.46,1.22],[-0.455,1.36],[-0.445,1.14],[-0.44,0.98],[-0.43,1.26],[-0.42,1.10],[-0.415,0.96],[-0.41,1.40],[-0.40,1.16],[-0.395,0.92],[-0.385,1.22],[-0.38,1.06],[-0.37,0.90],[-0.365,1.42],[-0.355,1.12],[-0.35,0.94],[-0.34,1.28],[-0.335,1.06],[-0.325,0.88],[-0.32,1.20],[-0.31,1.00],[-0.305,1.44],[-0.30,0.86],[-0.29,1.10],[-0.285,0.94],[-0.275,1.26],[-0.27,1.04],[-0.265,0.82],[-0.255,1.20],[-0.25,0.92],[-0.245,0.78],[-0.24,1.08],[-0.235,1.30],[-0.225,0.86],[-0.215,1.16],[-0.21,0.96],[-0.20,0.74],[-0.195,1.04],[-0.19,0.86],[-0.18,1.20],[-0.17,0.94],[-0.165,0.72],[-0.16,1.02],[-0.15,0.84],[-0.14,1.22],[-0.135,0.70],[-0.13,0.96],[-0.12,0.82],[-0.11,1.06],[-0.10,0.62],[-0.095,0.86],[-0.09,0.72],[-0.08,1.12],[-0.075,0.60],[-0.065,0.78],[-0.06,0.50],[-0.05,0.62],[-0.045,0.40],[-0.03,0.30]];

const grayB_leftBand = [[-0.01,0.01],[-0.01,0.05],
[-0.025,0.03],[-0.025,0.08],[-0.025,0.13],
[-0.04,0.05],[-0.04,0.11],[-0.04,0.17],[-0.04,0.23],
[-0.055,0.07],[-0.055,0.14],[-0.055,0.21],[-0.055,0.28],
[-0.07,0.09],[-0.07,0.17],[-0.07,0.25],[-0.07,0.33],
[-0.085,0.12],[-0.085,0.20],[-0.085,0.28],[-0.085,0.36],
[-0.10,0.15],[-0.10,0.23],[-0.10,0.31],[-0.10,0.40],
[-0.115,0.17],[-0.115,0.25],[-0.115,0.34],[-0.115,0.43],
[-0.13,0.20],[-0.13,0.28],[-0.13,0.37],[-0.13,0.46],
[-0.145,0.22],[-0.145,0.30],[-0.145,0.39],[-0.145,0.49],
[-0.16,0.24],[-0.16,0.33],[-0.16,0.42],[-0.16,0.52],
[-0.175,0.26],[-0.175,0.35],[-0.175,0.44],[-0.175,0.54],
[-0.19,0.28],[-0.19,0.37],[-0.19,0.47],[-0.19,0.56],
[-0.205,0.30],[-0.205,0.39],[-0.205,0.49],[-0.205,0.58],
[-0.22,0.31],[-0.22,0.41],[-0.22,0.51],[-0.22,0.60],
[-0.235,0.33],[-0.235,0.43],[-0.235,0.53],[-0.235,0.62],
[-0.25,0.35],[-0.25,0.45],[-0.25,0.55],[-0.25,0.64],
[-0.265,0.37],[-0.265,0.47],[-0.265,0.57],[-0.265,0.66],
[-0.28,0.38],[-0.28,0.48],[-0.28,0.59],[-0.28,0.68],
[-0.295,0.40],[-0.295,0.50],[-0.295,0.61],[-0.295,0.70],
[-0.31,0.42],[-0.31,0.52],[-0.31,0.62],[-0.31,0.72],
[-0.325,0.43],[-0.325,0.54],[-0.325,0.64],[-0.325,0.74],
[-0.34,0.45],[-0.34,0.56],[-0.34,0.66],[-0.34,0.75],
[-0.355,0.47],[-0.355,0.57],[-0.355,0.68],[-0.355,0.77],
[-0.37,0.48],[-0.37,0.59],[-0.37,0.69],[-0.37,0.78],
[-0.385,0.50],[-0.385,0.61],[-0.385,0.71],[-0.385,0.80],
[-0.40,0.52],[-0.40,0.62],[-0.40,0.73],[-0.40,0.82],
[-0.415,0.54],[-0.415,0.64],[-0.415,0.74],[-0.415,0.83],
[-0.43,0.56],[-0.43,0.66],[-0.43,0.76],[-0.43,0.85],
[-0.445,0.58],[-0.445,0.68],[-0.445,0.78],[-0.445,0.86],
[-0.46,0.60],[-0.46,0.70],[-0.46,0.80],[-0.46,0.88],
[-0.475,0.63],[-0.475,0.72],[-0.475,0.82],[-0.475,0.90],
[-0.49,0.66],[-0.49,0.75],[-0.49,0.84],[-0.49,0.92],
[-0.505,0.70],[-0.505,0.80],[-0.505,0.90],
[-0.52,0.74],[-0.52,0.83],[-0.52,0.91],[0,0],
[-0.0175,0.02],[-0.0175,0.07],[-0.0175,0.11],
[-0.0325,0.04],[-0.0325,0.10],[-0.0325,0.16],[-0.0325,0.21],
[-0.0475,0.06],[-0.0475,0.13],[-0.0475,0.19],[-0.0475,0.26],
[-0.0625,0.08],[-0.0625,0.16],[-0.0625,0.23],[-0.0625,0.30],
[-0.0775,0.11],[-0.0775,0.19],[-0.0775,0.27],[-0.0775,0.34],
[-0.0925,0.13],[-0.0925,0.22],[-0.0925,0.30],[-0.0925,0.38],
[-0.1075,0.16],[-0.1075,0.24],[-0.1075,0.33],[-0.1075,0.41],
[-0.1225,0.19],[-0.1225,0.27],[-0.1225,0.36],[-0.1225,0.45],
[-0.1375,0.21],[-0.1375,0.30],[-0.1375,0.39],[-0.1375,0.48],
[-0.1525,0.23],[-0.1525,0.32],[-0.1525,0.41],[-0.1525,0.51],
[-0.1675,0.25],[-0.1675,0.34],[-0.1675,0.44],[-0.1675,0.53],
[-0.1825,0.27],[-0.1825,0.36],[-0.1825,0.46],[-0.1825,0.55],
[-0.1975,0.29],[-0.1975,0.38],[-0.1975,0.48],[-0.1975,0.57],
[-0.2125,0.30],[-0.2125,0.40],[-0.2125,0.50],[-0.2125,0.59],
[-0.2275,0.32],[-0.2275,0.42],[-0.2275,0.52],[-0.2275,0.61],
[-0.2425,0.34],[-0.2425,0.44],[-0.2425,0.54],[-0.2425,0.63],
[-0.2575,0.36],[-0.2575,0.46],[-0.2575,0.56],[-0.2575,0.65],
[-0.2725,0.37],[-0.2725,0.48],[-0.2725,0.58],[-0.2725,0.67],
[-0.2875,0.39],[-0.2875,0.49],[-0.2875,0.60],[-0.2875,0.69],
[-0.3025,0.41],[-0.3025,0.51],[-0.3025,0.62],[-0.3025,0.71],
[-0.3175,0.42],[-0.3175,0.53],[-0.3175,0.63],[-0.3175,0.73],
[-0.3325,0.44],[-0.3325,0.55],[-0.3325,0.65],[-0.3325,0.75],
[-0.3475,0.46],[-0.3475,0.56],[-0.3475,0.67],[-0.3475,0.76],
[-0.3625,0.47],[-0.3625,0.58],[-0.3625,0.68],[-0.3625,0.78],
[-0.3775,0.49],[-0.3775,0.60],[-0.3775,0.70],[-0.3775,0.79],
[-0.3925,0.51],[-0.3925,0.61],[-0.3925,0.72],[-0.3925,0.81],
[-0.4075,0.53],[-0.4075,0.63],[-0.4075,0.73],[-0.4075,0.83],
[-0.4225,0.55],[-0.4225,0.65],[-0.4225,0.75],[-0.4225,0.84],
[-0.4375,0.57],[-0.4375,0.67],[-0.4375,0.77],[-0.4375,0.86],
[-0.4525,0.59],[-0.4525,0.69],[-0.4525,0.79],[-0.4525,0.87],
[-0.4675,0.61],[-0.4675,0.71],[-0.4675,0.81],[-0.4675,0.89],
[-0.4825,0.64],[-0.4825,0.73],[-0.4825,0.83],[-0.4825,0.91],
[-0.4975,0.68],[-0.4975,0.77],[-0.4975,0.86],[-0.4975,0.93],
[-0.5125,0.72],[-0.5125,0.81],[-0.5125,0.90]];

const grayB_right = [[0.335,3.92],[0.445,3.79],[0.453,3.76],[0.470,3.73],[0.255,3.64],[0.712,3.62],[0.434,3.41],[0.214,3.33],[0.304,3.33],[0.685,3.27],[0.239,3.17],[0.297,3.08],[0.384,3.13],[0.390,3.08],[0.524,2.99],[0.570,3.06],[0.761,3.01],[0.193,2.82],[0.222,2.76],[0.236,2.79],[0.244,2.90],[0.258,2.82],[0.299,2.90],[0.345,2.89],[0.436,2.81],[0.449,2.65],[0.431,2.70],[0.493,2.65],[0.533,2.57],[0.561,2.72],[0.680,2.88],[0.728,2.72],[0.815,2.84],[0.345,2.59],[0.387,2.56],[0.369,2.43],[0.394,2.43],[0.473,2.47],[0.440,2.32],[0.634,2.60],[0.700,2.45],[0.723,2.44],[0.556,2.24],[0.793,2.30],[0.746,2.22],[0.268,2.20],[0.273,2.10],[0.263,2.11],[0.337,2.08],[0.369,2.06],[0.371,1.98],[0.455,2.03],[0.475,1.99],[0.518,1.92],[0.525,1.91],[0.498,1.87],[0.556,1.80],[0.658,2.13],[0.654,2.04],[0.642,2.05],[0.697,2.13],[0.686,1.95],[0.687,1.80],[0.808,2.06],[0.840,1.97],[0.780,1.95],[0.753,1.87],[0.780,1.73],[0.789,1.77],[0.721,1.66],[0.723,1.59],[0.701,1.39],[0.699,1.30],[0.691,1.25],[0.649,1.80],[0.655,1.75],[0.659,1.59],[0.675,1.54],[0.644,1.47],[0.626,1.58],[0.582,1.64],[0.610,1.57],[0.617,1.44],[0.632,1.35],[0.644,1.11],[0.619,1.19],[0.606,1.14],[0.586,1.14],[0.102,2.01],[0.122,2.08],[0.136,1.85],[0.146,1.82],[0.161,1.92],[0.179,1.92],[0.207,1.75],[0.221,2.03],[0.238,1.91],[0.254,1.87],[0.270,1.78],[0.300,1.77],[0.306,1.73],[0.332,1.61],[0.367,1.82],[0.405,1.77],[0.416,1.91],[0.444,1.70],[0.421,1.55],[0.400,1.61],[0.125,1.57],[0.174,1.43],[0.161,1.41],[0.193,1.57],[0.213,1.50],[0.217,1.42],[0.250,1.56],[0.265,1.45],[0.279,1.44],[0.295,1.45],[0.316,1.44],[0.304,1.33],[0.345,1.45],[0.332,1.23],[0.338,1.23],[0.376,1.30],[0.384,1.23],[0.390,1.35],[0.414,1.30],[0.431,1.28],[0.473,1.42],[0.508,1.42],[0.533,1.48],[0.545,1.49],[0.567,1.42],[0.579,1.39],[0.551,1.32],[0.545,1.61],[0.099,1.43],[0.092,1.35],[0.112,1.23],[0.122,1.14],[0.134,1.13],[0.155,1.23],[0.161,1.18],[0.174,1.28],[0.075,1.00],[0.099,0.98],[0.122,0.87],[0.134,0.85],[0.141,1.00],[0.155,0.97],[0.174,1.02],[0.188,0.97],[0.205,1.07],[0.223,1.00],[0.238,1.16],[0.248,1.19],[0.266,1.25],[0.273,1.00],[0.295,1.14],[0.242,0.87],[0.263,0.85],[0.337,1.00],[0.372,1.21],[0.384,1.14],[0.403,1.07],[0.431,1.06],[0.446,1.00],[0.462,0.97],[0.473,1.21],[0.496,1.14],[0.514,1.18],[0.520,1.00],[0.551,1.11],[0.557,1.00],[0.570,0.92],[0.496,0.88],[0.505,0.80],[0.458,0.82],[0.471,0.80],[0.533,0.87],[0.539,0.76],[0.062,0.80],[0.056,0.73],[0.050,0.62],[0.075,0.66],[0.124,0.69],[0.161,0.73],[0.192,0.76],[0.310,0.31],[0.217,0.19],
[0.05,0.90],[0.07,0.86],[0.085,0.78],[0.09,0.92],[0.105,0.80],[0.11,0.70],[0.13,0.76],[0.145,0.66],[0.15,0.82],[0.165,0.88],[0.18,0.68],[0.185,0.84],[0.20,0.72],[0.21,0.90],[0.225,0.78],[0.235,0.70],[0.25,0.92],[0.255,0.78],[0.27,0.86],[0.28,0.76],[0.29,0.94],[0.30,0.82],[0.31,0.88],[0.32,0.98],[0.33,0.84],[0.345,0.92],[0.355,1.02],[0.36,0.86],[0.375,0.96],[0.39,0.88],[0.40,0.98],[0.41,0.86],[0.42,0.94],[0.435,0.90],[0.44,0.84],[0.45,0.92],[0.465,0.86],[0.48,0.96],[0.49,0.90],[0.51,0.94],[0.525,0.90],[0.54,0.98],
[0.02,0.30],[0.03,0.42],[0.035,0.56],[0.045,0.46],[0.055,0.50],[0.065,0.60],[0.07,0.72],[0.08,0.54],[0.09,0.64],[0.095,0.80],[0.105,0.58],[0.115,0.66],[0.12,0.80],[0.13,0.62],[0.14,0.72],[0.15,0.92],[0.16,0.66],[0.17,0.78],[0.175,0.94],[0.19,0.68],[0.195,0.86],[0.205,0.80],[0.215,0.68],[0.22,0.92],[0.23,0.74],[0.24,0.82],[0.245,0.98],[0.26,0.72],[0.265,0.90],[0.275,0.96],[0.285,0.78],[0.295,0.88],[0.305,1.04],[0.315,0.80],[0.325,0.92],[0.335,1.08],[0.34,0.84],[0.35,0.96],[0.365,0.84],[0.37,1.04],[0.38,0.90],[0.395,0.94],[0.405,0.84],[0.415,1.00],[0.425,0.86],[0.44,0.94],[0.455,0.88],[0.47,0.92],[0.485,1.00],[0.50,0.92],[0.515,1.04],[0.53,0.96],[0.545,1.04],[0.56,1.12],[0.575,1.02],[0.59,1.20],[0.60,1.06]];

const grayB_rightBand = [[0.01,0.01],[0.01,0.06],[0.012,0.10],
[0.025,0.03],[0.025,0.09],[0.025,0.15],[0.025,0.21],
[0.04,0.05],[0.04,0.12],[0.04,0.19],[0.04,0.26],[0.04,0.32],
[0.055,0.07],[0.055,0.15],[0.055,0.23],[0.055,0.30],[0.055,0.37],
[0.07,0.09],[0.07,0.17],[0.07,0.25],[0.07,0.33],[0.07,0.41],
[0.085,0.11],[0.085,0.19],[0.085,0.28],[0.085,0.36],[0.085,0.44],
[0.10,0.13],[0.10,0.21],[0.10,0.30],[0.10,0.38],[0.10,0.47],
[0.115,0.15],[0.115,0.23],[0.115,0.32],[0.115,0.40],[0.115,0.49],
[0.13,0.16],[0.13,0.25],[0.13,0.34],[0.13,0.42],[0.13,0.51],
[0.145,0.18],[0.145,0.27],[0.145,0.36],[0.145,0.44],[0.145,0.53],
[0.16,0.20],[0.16,0.29],[0.16,0.38],[0.16,0.46],[0.16,0.55],
[0.175,0.22],[0.175,0.31],[0.175,0.40],[0.175,0.48],[0.175,0.57],
[0.19,0.24],[0.19,0.33],[0.19,0.42],[0.19,0.50],[0.19,0.59],
[0.205,0.26],[0.205,0.35],[0.205,0.44],[0.205,0.52],[0.205,0.61],
[0.22,0.28],[0.22,0.37],[0.22,0.45],[0.22,0.54],[0.22,0.62],
[0.235,0.30],[0.235,0.39],[0.235,0.47],[0.235,0.56],[0.235,0.64],
[0.25,0.32],[0.25,0.41],[0.25,0.49],[0.25,0.58],[0.25,0.66],
[0.265,0.34],[0.265,0.43],[0.265,0.51],[0.265,0.59],[0.265,0.67],
[0.28,0.36],[0.28,0.45],[0.28,0.53],[0.28,0.61],[0.28,0.69],
[0.295,0.39],[0.295,0.47],[0.295,0.55],[0.295,0.63],[0.295,0.70],
[0.31,0.41],[0.31,0.49],[0.31,0.57],[0.31,0.65],[0.31,0.72],
[0.325,0.44],[0.325,0.52],[0.325,0.59],[0.325,0.66],[0.325,0.73],
[0.34,0.47],[0.34,0.54],[0.34,0.61],[0.34,0.68],[0.34,0.75],
[0.355,0.50],[0.355,0.57],[0.355,0.63],[0.355,0.70],[0.355,0.76],
[0.37,0.52],[0.37,0.59],[0.37,0.65],[0.37,0.71],[0.37,0.77],
[0.385,0.55],[0.385,0.61],[0.385,0.67],[0.385,0.73],[0.385,0.78],
[0.40,0.57],[0.40,0.63],[0.40,0.69],[0.40,0.74],[0.40,0.79],
[0.415,0.59],[0.415,0.65],[0.415,0.71],[0.415,0.77],
[0.43,0.61],[0.43,0.67],[0.43,0.73],
[0.44,0.64],[0.44,0.70],
[0.0175,0.02],[0.0175,0.07],[0.0175,0.13],[0.0175,0.18],
[0.0325,0.04],[0.0325,0.11],[0.0325,0.17],[0.0325,0.23],[0.0325,0.29],
[0.0475,0.06],[0.0475,0.13],[0.0475,0.21],[0.0475,0.28],[0.0475,0.34],
[0.0625,0.08],[0.0625,0.16],[0.0625,0.24],[0.0625,0.31],[0.0625,0.39],
[0.0775,0.10],[0.0775,0.18],[0.0775,0.26],[0.0775,0.34],[0.0775,0.42],
[0.0925,0.12],[0.0925,0.20],[0.0925,0.29],[0.0925,0.37],[0.0925,0.45],
[0.1075,0.14],[0.1075,0.22],[0.1075,0.31],[0.1075,0.39],[0.1075,0.48],
[0.1225,0.15],[0.1225,0.24],[0.1225,0.33],[0.1225,0.41],[0.1225,0.50],
[0.1375,0.17],[0.1375,0.26],[0.1375,0.35],[0.1375,0.43],[0.1375,0.52],
[0.1525,0.19],[0.1525,0.28],[0.1525,0.37],[0.1525,0.45],[0.1525,0.54],
[0.1675,0.21],[0.1675,0.30],[0.1675,0.39],[0.1675,0.47],[0.1675,0.56],
[0.1825,0.23],[0.1825,0.32],[0.1825,0.41],[0.1825,0.49],[0.1825,0.58],
[0.1975,0.25],[0.1975,0.34],[0.1975,0.43],[0.1975,0.51],[0.1975,0.60],
[0.2125,0.27],[0.2125,0.36],[0.2125,0.44],[0.2125,0.53],[0.2125,0.61],
[0.2275,0.29],[0.2275,0.38],[0.2275,0.46],[0.2275,0.55],[0.2275,0.63],
[0.2425,0.31],[0.2425,0.40],[0.2425,0.48],[0.2425,0.57],[0.2425,0.65],
[0.2575,0.33],[0.2575,0.42],[0.2575,0.50],[0.2575,0.58],[0.2575,0.66],
[0.2725,0.35],[0.2725,0.44],[0.2725,0.52],[0.2725,0.60],[0.2725,0.68],
[0.2875,0.37],[0.2875,0.46],[0.2875,0.54],[0.2875,0.62],[0.2875,0.69],
[0.3025,0.40],[0.3025,0.48],[0.3025,0.56],[0.3025,0.64],[0.3025,0.71],
[0.3175,0.42],[0.3175,0.50],[0.3175,0.58],[0.3175,0.65],[0.3175,0.72],
[0.3325,0.45],[0.3325,0.53],[0.3325,0.60],[0.3325,0.67],[0.3325,0.74],
[0.3475,0.48],[0.3475,0.55],[0.3475,0.62],[0.3475,0.69],[0.3475,0.75],
[0.3625,0.51],[0.3625,0.58],[0.3625,0.64],[0.3625,0.70],[0.3625,0.76],
[0.3775,0.53],[0.3775,0.60],[0.3775,0.66],[0.3775,0.72],[0.3775,0.77],
[0.3925,0.56],[0.3925,0.62],[0.3925,0.68],[0.3925,0.73],[0.3925,0.78],
[0.4075,0.58],[0.4075,0.64],[0.4075,0.70],[0.4075,0.75],
[0.4225,0.60],[0.4225,0.66],[0.4225,0.72],[0.4225,0.76],
[0.435,0.62],[0.435,0.68],[0.435,0.72]];

// ---------- styling / layout ----------
const FONT = "'Liberation Sans', Arial, Helvetica, sans-serif";
const GRAY = '#9E9E9E';
const RED = '#C4122F';
const REFLINE = '#1E3C6E';
const DOT = 5.5;
const BAND_DOT = 7;

const placeA = {
  'T+methadone':     {align:'left',  verticalAlign:'bottom', offset:[4, 4]},
  'E+megestrol':     {align:'right', verticalAlign:'bottom', offset:[-3, 4]},
  'T+phenobarbital': {align:'left',  verticalAlign:'bottom', offset:[3, 4]},
  'T+rizatriptan':   {align:'right', verticalAlign:'middle', offset:[-5, 0]},
  'Tr+promethazine': {align:'right', verticalAlign:'top',    offset:[-3, -3]},
  'Z+minoxidil':     {align:'left',  verticalAlign:'top',    offset:[4, -3]}
};
const placeB = {
  'A+propranolol': {align:'left', verticalAlign:'middle', offset:[4, 1]},
  'L+TMP/SMX':     {align:'left', verticalAlign:'middle', offset:[5, -1]},
  'A+eletriptan':  {align:'left', verticalAlign:'bottom', offset:[4, 4]},
  'L+sulindac':    {align:'left', verticalAlign:'middle', offset:[4, 1]},
  'C+tegaserod':   {align:'left', verticalAlign:'bottom', offset:[4, 4]}
};

function redItems(names, xs, ys, place) {
  return names.map((n, i) => ({
    name: n,
    value: [xs[i], ys[i]],
    label: Object.assign({show: true, formatter: n, position: ['50%', '50%'],
      fontSize: 26, color: RED, fontFamily: FONT}, place[n])
  }));
}

function axesX(gridIndex, min, max) {
  return [{
    type: 'value', gridIndex, min, max, position: 'bottom',
    axisLine: {show: false, onZero: false}, splitLine: {show: false},
    axisTick: {show: true, customValues: xTickLabels, length: 10, lineStyle: {color: '#000', width: 2}},
    axisLabel: {show: true, customValues: xTickLabels, fontSize: 24, color: '#000', fontFamily: FONT, margin: 13},
    name: xTitle, nameLocation: 'middle', nameGap: 42, nameMoveOverlap: false,
    nameTextStyle: {fontSize: 26, color: '#000', fontFamily: FONT}
  }, {
    type: 'value', gridIndex, min, max, position: 'bottom',
    axisLine: {show: false, onZero: false}, splitLine: {show: false},
    axisTick: {show: true, customValues: xMinorTicks, length: 6, lineStyle: {color: '#222', width: 1.2}},
    axisLabel: {show: false}
  }];
}
// major axis carries the tick labels; the minor-tick axis carries the axis title,
// so the title never competes with the labels for space.
function axesY(gridIndex, min, max, labels, minor, labelMargin) {
  return [{
    type: 'value', gridIndex, min, max, position: 'left',
    axisLine: {show: false, onZero: false}, splitLine: {show: false},
    axisTick: {show: true, customValues: labels, length: 10, lineStyle: {color: '#000', width: 2}},
    axisLabel: {show: true, customValues: labels, rotate: 90, fontSize: 24, color: '#000', fontFamily: FONT, margin: labelMargin}
  }, {
    type: 'value', gridIndex, min, max, position: 'left',
    axisLine: {show: false, onZero: false}, splitLine: {show: false},
    axisTick: {show: true, customValues: minor, length: 6, lineStyle: {color: '#222', width: 1.2}},
    axisLabel: {show: false},
    name: yTitle, nameLocation: 'middle', nameGap: 43, nameRotate: 90, nameMoveOverlap: false,
    nameTextStyle: {fontSize: 26, color: '#000', fontFamily: FONT}
  }];
}

const refLines = {
  silent: true, symbol: ['none', 'none'], animation: false,
  label: {show: false},
  lineStyle: {color: REFLINE, width: 2, type: 'solid'},
  data: [{xAxis: 0}, {yAxis: 3}]
};

function graySeries(xi, yi, data, size, withLines) {
  const s = {type: 'scatter', xAxisIndex: xi, yAxisIndex: yi, symbolSize: size,
    itemStyle: {color: GRAY}, data: data, z: 2, silent: true};
  if (withLines) s.markLine = refLines;
  return s;
}

const chart = echarts.init(document.getElementById('c'), null, {renderer: 'canvas'});
chart.setOption({
  animation: false,
  backgroundColor: '#fff',
  title: [
    {text: '(A)', left: 92, top: 34, padding: 0, textStyle: {fontSize: 36, fontWeight: 'normal', color: '#000', fontFamily: FONT}},
    {text: '(B)', left: 1358, top: 32, padding: 0, textStyle: {fontSize: 36, fontWeight: 'normal', color: '#000', fontFamily: FONT}}
  ],
  grid: [
    {left: 72, top: 1.3, width: 1112, height: 840.7, show: true, borderColor: '#000', borderWidth: 2, backgroundColor: 'transparent', containLabel: false, outerBoundsMode: 'none'},
    {left: 1339, top: 1.5, width: 1108.7, height: 839.2, show: true, borderColor: '#000', borderWidth: 2, backgroundColor: 'transparent', containLabel: false, outerBoundsMode: 'none'}
  ],
  xAxis: [].concat(axesX(0, -2.066, 2.059), axesX(1, -2.0606, 2.0576)),
  yAxis: [].concat(axesY(0, -0.2297, 12.229, yTickLabelsA, yMinorTicksA, 19), axesY(1, -0.327, 17.14, yTickLabelsB, yMinorTicksB, 22)),
  series: [
    graySeries(0, 0, [].concat(grayA_leftBand, grayA_rightBand), BAND_DOT, false),
    graySeries(0, 0, [].concat(grayA_upper, grayA_left, grayA_right), DOT, true),
    {type: 'scatter', xAxisIndex: 0, yAxisIndex: 0, symbolSize: DOT, itemStyle: {color: RED},
     data: redItems(redNamesA, redXA, redYA, placeA), z: 4},
    graySeries(2, 2, [].concat(grayB_leftBand, grayB_rightBand), BAND_DOT, false),
    graySeries(2, 2, [].concat(grayB_upper, grayB_left, grayB_right), DOT, true),
    {type: 'scatter', xAxisIndex: 2, yAxisIndex: 2, symbolSize: DOT, itemStyle: {color: RED},
     data: redItems(redNamesB, redXB, redYB, placeB), z: 4}
  ]
});
</script>
</body></html>
